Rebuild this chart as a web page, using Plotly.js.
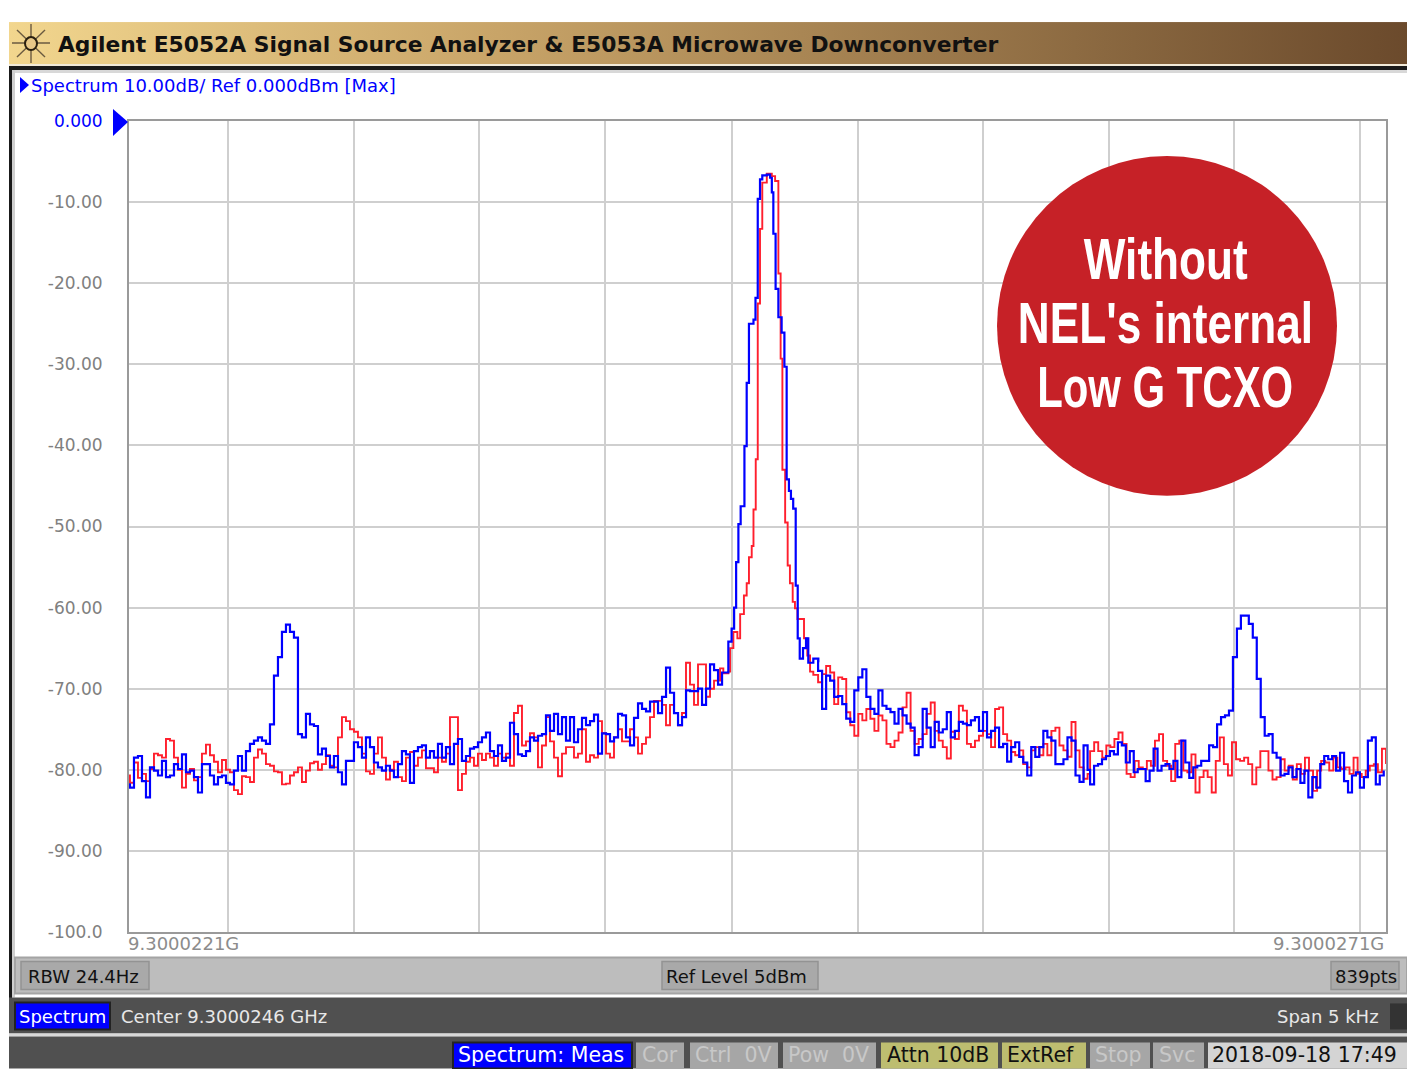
<!DOCTYPE html>
<html><head><meta charset="utf-8">
<script src="https://cdn.plot.ly/plotly-3.0.1.min.js"></script>
<style>html,body{margin:0;padding:0;background:#fff;overflow:hidden}</style>
</head><body><div id="chart" style="width:1407px;height:1069px"></div>
<script>
// ---- tick positions (Hz above 9.3000221 GHz) and labels
const gridHz = [394,895,1392,1894,2399,2900,3397,3898,4395,4897];
const yTicks = [0,-10,-20,-30,-40,-50,-60,-70,-80,-90,-100];
const yTickLabels = ['<span style="color:#0000ff">0.000</span>','-10.00','-20.00','-30.00','-40.00','-50.00','-60.00','-70.00','-80.00','-90.00','-100.0'];

// ---- blue trace (dBm)
const blueA = [-81.8,-82.2,-78.5,-78.3,-81.4,-83.4,-79.7,-80.1,-80.7,-78.9,-80.9,-80.7,-79.3,-79.9,-78.1,-80.3,-80.1,-80.9,-82.8,-79.3,-79.3,-80.7,-81.8,-80.9,-80.7,-81.6,-81.8,-80.1,-78.3,-80.1,-77.7,-76.8,-76.4,-76,-76.4,-76.8,-74.4,-68.4,-66.1,-63,-62.1,-63,-63.7,-75.6,-76,-73.1,-74.4,-74.6,-78.1,-77.4,-78.3,-79.7,-78.3,-80.3,-81.8,-78.9,-78.9,-76.6,-77.2,-78.5,-76,-77.2,-79.1,-79.7,-80.1,-79.5,-80.1,-80.9,-79.3,-77.7,-78.1,-81.6,-77.7,-77.2,-77,-78.5,-77.7,-78.5];
const blueB = [-76.8,-78.5,-77.2,-79.3,-76.8,-76.2,-78.9,-78.3,-77.4,-77.2,-76.6,-76,-75.4,-77.7,-78.3,-77,-78.9,-78.5,-74.2,-75.6,-78.1,-78.3,-77.7,-76,-76.4,-75.8,-75.6,-73.3,-75.2,-73.1,-75.6,-73.5,-76.4,-73.5,-76.6,-75,-73.6,-74.5,-74,-73.2,-78,-75.5,-75.6,-76.5,-76,-73.1,-73.3,-76,-77,-73.6,-71.8,-72.5,-72.8,-71.6,-71.6,-73,-71,-67.4,-70.5,-73,-74.5,-73.5,-70.2,-70.3,-70.3,-70,-72,-70,-67,-67.7,-69.5,-68];
const bluePeakHz = [2388,2401,2411,2419,2428,2437,2452,2461,2470,2488,2496,2505,2514,2523,2541,2554,2561,2567,2576,2587,2600,2611,2620,2629,2637,2646,2656,2664,2672,2685,2697,2706,2726,2746];
const bluePeakDb = [-64.2,-62.6,-60,-54.4,-49.7,-47.5,-40.1,-32.3,-25,-24.5,-21.8,-9.6,-7.2,-6.7,-6.6,-7,-8.8,-13.9,-20.7,-24.2,-26.1,-30.3,-44.2,-45.6,-46.6,-47.8,-57.3,-63.8,-66.3,-65,-63.8,-66.8,-66.3,-66.6];
const blueC = [-67.8,-72.5,-68.4,-69,-71,-70.9,-71.9,-73.7,-74.1,-70.2,-68.6,-67.6,-71,-72.5,-73.1,-70.2,-72.1,-72.5,-72.9,-74.3,-72.5,-73.3,-74.3,-74.8,-78.2,-77.2,-72.5,-74.8,-77.2,-74.1,-75.4,-75,-72.9,-76,-75.2,-74.1,-74.3,-74.5,-73.9,-73.5,-75.2,-72.9,-76,-75.2,-74.8,-77.2,-76.8,-79,-77.2,-76.6,-78.4,-79.1,-80.7,-77.2,-78.4,-77.2,-75.2,-76,-76.4,-79.3,-79.3,-78.7,-76,-76.4,-80.7,-81.5,-77,-80];
const blueD = [-81.8,-79.5,-79.3,-78.7,-78.3,-77.7,-78.1,-76.6,-77,-79.1,-77.7,-80.3,-79.9,-79.9,-81.4,-80.1,-77.4,-80.1,-79.5,-79.3,-79.9,-78.9,-80.9,-76.4,-79.1,-81,-79.7,-79.5,-78.9,-78.9,-77,-77.2,-74.4,-73.5,-73.3,-72.7,-66.1,-62.6,-61,-61,-62,-63.7,-68.8,-73.5,-75.8,-75.6,-77.9,-78.5,-80.7,-80.5,-79.7,-80.9,-79.9,-81.6,-80.1,-83.4,-80.9,-82.2,-79.3,-78.3,-78.7,-78.3,-80.1,-77.9,-81.4,-82.8,-80.7,-80.3,-82.2,-80.9,-76.4,-76,-81.8,-80.7,-80.1];

// ---- red trace (dBm)
const redA = [-80.7,-81.6,-79.1,-81,-80.5,-81.4,-79.9,-78,-78.2,-78.5,-76.2,-76.4,-78.5,-80,-82.2,-80.5,-79.9,-81.3,-80.9,-78,-76.9,-78.2,-79,-80.3,-78.8,-80,-80.3,-82.5,-83,-80.8,-80.9,-81.5,-78.5,-77.5,-78,-79.3,-79.5,-80.2,-80.3,-81.8,-81.7,-80.7,-80.3,-79.7,-81.5,-80.1,-79.2,-79,-80,-79.3,-78.2,-79.5,-79.7,-76,-73.5,-74,-75,-75.3,-76,-78,-80.2,-80.5,-78,-76,-78.5,-81.2,-80,-79,-80.9,-81.4,-78.5,-77.8,-79.5,-78.5,-77.6,-79.8,-79.8,-80.3];
const redB = [-78.5,-79,-78,-73.5,-73.5,-82.5,-80.5,-79,-78.5,-79.5,-78,-78.8,-78,-78.5,-79.5,-78,-78.5,-78,-79.5,-73,-72.1,-77,-76.5,-75.5,-76,-79.7,-77,-73.5,-76.5,-78.5,-80.8,-78,-77.2,-77.2,-78.5,-78,-75,-79,-78.2,-78.5,-74,-75.5,-78,-78.5,-76,-75,-76.5,-76.5,-75,-76,-78,-76.8,-76,-73.5,-71.5,-71.5,-72,-74.5,-72,-73,-74.5,-73,-66.8,-69.5,-72,-67,-67,-71,-70,-69];
const redPeakHz = [2355,2368,2388,2395,2408,2424,2435,2450,2461,2470,2481,2488,2497,2505,2514,2523,2541,2561,2574,2587,2596,2603,2614,2624,2633,2644,2653,2663,2689,2702,2713,2726];
const redPeakDb = [-67.5,-68.1,-67.9,-65,-63,-63.8,-60.8,-58.5,-57,-53.8,-52.4,-47.9,-41.7,-22.5,-13.3,-7.6,-6.5,-6.8,-7.4,-18.8,-29.3,-43,-49.5,-54.8,-57,-59.3,-60.1,-61.4,-63.8,-65.9,-67.9,-68.3];
const redC = [-69.2,-68.2,-67.2,-68,-71.9,-68.6,-68.8,-72.9,-74.5,-75.8,-73.1,-73.9,-72.5,-73.7,-75.2,-73.3,-73.9,-76.8,-77.2,-76.4,-75.4,-72.3,-70.5,-75.2,-76.8,-76.2,-75.6,-73.1,-71.7,-75.2,-76.4,-77.2,-78.6,-75.3,-76.2,-72.1,-72.7,-76.8,-77.2,-76.4,-75.8,-75.2,-75.6,-77.2,-72.5,-72.3,-75.6,-76.4,-77.8,-78.2,-77.6,-79.3,-79.7,-77.6,-77.2,-78.2,-76.8,-78.2,-75.2,-74.8,-77,-77.6,-78.4,-74.1,-77.6,-79.7,-81.1,-80.5];
const redD = [-77.7,-76.6,-77.7,-78.5,-77,-77.2,-76.2,-75.4,-76.8,-80.5,-80.9,-78.9,-79.7,-79.9,-78.9,-79.5,-76.4,-75.6,-78.9,-79.5,-81.4,-76.8,-76.4,-80.1,-80.3,-78.1,-82.8,-80.9,-80.1,-80.9,-82.8,-78.9,-76,-79.3,-80.7,-76.6,-78.7,-78.9,-78.5,-79.3,-81.8,-79.7,-77.7,-77.7,-80.1,-81.2,-80.9,-78.7,-80.1,-79.5,-81.2,-79.3,-80.5,-78.5,-80.1,-82.6,-80.1,-78.9,-79.1,-80.1,-78.5,-79.7,-79.9,-79.7,-80.5,-78.5,-80.5,-80.9,-80.1,-79.5,-79.3,-80.3,-77.4,-79.3];

// ---- sweep segments: the analyser's frequency grid is evenly spaced
function sweep(startHz,endHz,values){return values.map((_,i)=>startHz+(endHz-startHz)*i/(values.length-1));}
const calHz=4;
const blueX=[...sweep(-8,1217,blueA),...sweep(1233,2363,blueB),...bluePeakHz,...sweep(2745,3817,blueC),...sweep(3827,4995,blueD)].map(h=>h-calHz);
const blueY=[...blueA,...blueB,...bluePeakDb,...blueC,...blueD];
const redX=[...sweep(-8,1217,redA),...sweep(1233,2331,redB),...redPeakHz,...sweep(2745,3817,redC),...sweep(3827,5004,redD)].map(h=>h-calHz);
const redY=[...redA,...redB,...redPeakDb,...redC,...redD];

// ---- page coordinates to plot-area paper fractions
const W=1407,H=1069,L=129,RT=1386,TP=121,BT=932.5;
const px=x=>(x-L)/(RT-L), py=y=>(BT-y)/(BT-TP);
const UI='"DejaVu Sans", sans-serif';
const shapes=[], annotations=[];
function box(x0,y0,x1,y1,fill,edge,w){shapes.push({type:'rect',xref:'paper',yref:'paper',x0:px(x0),x1:px(x1),y0:py(y0),y1:py(y1),fillcolor:fill,line:{color:edge||fill,width:edge?(w||1):0},layer:'above'});}
function poly(points,fill){shapes.push({type:'path',xref:'paper',yref:'paper',path:'M'+points.map(p=>px(p[0])+','+py(p[1])).join(' L')+' Z',fillcolor:fill,line:{width:0},layer:'above'});}
function seg(x0,y0,x1,y1,color,w){shapes.push({type:'line',xref:'paper',yref:'paper',x0:px(x0),x1:px(x1),y0:py(y0),y1:py(y1),line:{color:color,width:w},layer:'above'});}
function label(text,x,y,size,color,anchor,family,bold){annotations.push({xref:'paper',yref:'paper',x:px(x),y:py(y),text:bold?'<b>'+text+'</b>':text,showarrow:false,xanchor:anchor||'left',yanchor:'middle',borderpad:0,align:anchor||'left',font:{size:size,color:color,family:family||UI}});}

// frame
box(9,64,1407,66,'#f2ead8');
box(9,66,1407,70,'#1a1a1a');
box(9,66,12,1000,'#1a1a1a');
box(12,70,15,998,'#cfcfcf');
box(15,70,1407,73,'#d8d8d8');
// header strip
label('Spectrum 10.00dB/ Ref 0.000dBm [Max]',30,85,18,'#0000ff','left');
poly([[20,77],[29,85],[20,93]],'#0000ff');
poly([[113,109],[128,122],[113,136]],'#0000ff');
// frequency labels
label('9.3000221G',127,944,18,'#8c8c8c','left');
label('9.3000271G',1385,944,18,'#8c8c8c','right');
// light-grey status row
box(15,958,1407,994,'#bdbdbd','#a4a4a4',2);
box(21,962,149,990,'#a9a9a9','#939393',1.5);
box(662,962,818,990,'#a9a9a9','#939393',1.5);
box(1331,962,1399,990,'#a9a9a9','#939393',1.5);
label('RBW 24.4Hz',27,977,18,'#111','left');
label('Ref Level 5dBm',665,977,18,'#111','left');
label('839pts',1334,977,18,'#111','left');
// dark rows
box(9,998,1407,1034,'#505050');
box(9,1034,1407,1037,'#d8d8d8');
box(9,1037,1407,1069,'#505050');
box(15,1003,110,1030,'#0000ff','#222',2);
box(1390,1004,1407,1030,'#333333');
label('Spectrum',18,1017,18,'#fff','left');
label('Center 9.3000246 GHz',120,1017,18,'#e8e8e8','left');
label('Span 5 kHz',1380,1017,18,'#e8e8e8','right');
// status buttons
const BY=1056, BS=20.5;
box(453,1043,632,1069,'#0000ff','#222',2);
label('Spectrum: Meas',457,BY,BS,'#fff','left');
box(636,1043,684,1069,'#a6a6a6');label('Cor',641,BY,BS,'#c8c8c8','left');
box(690,1043,778,1069,'#a6a6a6');label('Ctrl  0V',694,BY,BS,'#c8c8c8','left');
box(783,1043,876,1069,'#a6a6a6');label('Pow  0V',787,BY,BS,'#c8c8c8','left');
box(881,1043,998,1069,'#bdbd70');label('Attn 10dB',886,BY,BS,'#111','left');
box(1002,1043,1086,1069,'#bdbd70');label('ExtRef',1006,BY,BS,'#111','left');
box(1090,1043,1150,1069,'#a6a6a6');label('Stop',1094,BY,BS,'#c8c8c8','left');
box(1153,1043,1204,1069,'#a6a6a6');label('Svc',1158,BY,BS,'#c8c8c8','left');
box(1208,1043,1407,1069,'#d4d4d4');label('2018-09-18 17:49',1211,BY,20.5,'#111','left');
// title bar text and star logo
label('Agilent E5052A Signal Source Analyzer &amp; E5053A Microwave Downconverter',57,44,21.8,'#111','left',UI,true);
[[12,43,50,43],[31,24,31,63],[17,30,45,57],[45,30,17,57]].forEach(s=>seg(s[0],s[1],s[2],s[3],'#6a5a40',1.4));
shapes.push({type:'circle',xref:'paper',yref:'paper',x0:px(25),x1:px(37),y0:py(37),y1:py(50),fillcolor:'#e8c888',line:{color:'#2a2010',width:2},layer:'above'});
// callout
shapes.push({type:'circle',xref:'paper',yref:'paper',x0:px(997),x1:px(1337),y0:py(156),y1:py(496),fillcolor:'#c62127',line:{width:0},layer:'above'});
const CALL='"Liberation Sans",sans-serif';
const calloutLines=['Without',"NEL's internal",'Low G TCXO'];
const calloutNarrow=[0.775,0.775,0.735];
label(calloutLines[0],1166,259,57,'#fff','center',CALL,true);
label(calloutLines[1],1165,323,57,'#fff','center',CALL,true);
label(calloutLines[2],1165,387,57,'#fff','center',CALL,true);

const titleGradient='data:image/svg+xml;utf8,'+encodeURIComponent('<svg xmlns="http://www.w3.org/2000/svg" width="1398" height="43" preserveAspectRatio="none"><defs><linearGradient id="g"><stop offset="0" stop-color="#f2d68e"/><stop offset="0.35" stop-color="#c8a468"/><stop offset="1" stop-color="#6b4a2c"/></linearGradient></defs><rect width="1398" height="43" fill="url(#g)"/></svg>');

const traces=[
 {type:'scatter',mode:'lines',x:redX,y:redY,line:{color:'#ff1f2d',width:1.9,shape:'hv'},hoverinfo:'skip'},
 {type:'scatter',mode:'lines',x:blueX,y:blueY,line:{color:'#0000ff',width:2.2,shape:'hv'},hoverinfo:'skip'}
];
const layout={
 width:W,height:H,showlegend:false,paper_bgcolor:'#ffffff',plot_bgcolor:'#ffffff',
 margin:{l:L,r:W-RT,t:TP,b:H-BT,pad:0},
 xaxis:{range:[0,5000],tickmode:'array',tickvals:gridHz,ticktext:gridHz.map(()=>''),ticks:'',showgrid:true,gridcolor:'#cfcfcf',gridwidth:2,zeroline:false,showline:true,linecolor:'#9a9a9a',linewidth:2,mirror:true,fixedrange:true},
 yaxis:{range:[-100,0],tickmode:'array',tickvals:yTicks,ticktext:yTickLabels,ticks:'outside',ticklen:21,tickcolor:'rgba(0,0,0,0)',tickfont:{size:17,color:'#808080',family:UI},showgrid:true,gridcolor:'#cfcfcf',gridwidth:2,zeroline:false,showline:true,linecolor:'#9a9a9a',linewidth:2,mirror:true,fixedrange:true},
 images:[{source:titleGradient,xref:'paper',yref:'paper',x:px(9),y:py(22),sizex:px(1407)-px(9),sizey:py(22)-py(64),xanchor:'left',yanchor:'top',sizing:'stretch',layer:'below'}],
 shapes:shapes,annotations:annotations
};
Plotly.newPlot('chart',traces,layout,{displayModeBar:false,staticPlot:true}).then(()=>{
 // the reference sets the callout in a condensed face: narrow the real text horizontally
 document.querySelectorAll('#chart .annotation-text').forEach(t=>{
  const i=calloutLines.indexOf(t.textContent);
  if(i>=0){t.style.transformBox='fill-box';t.style.transformOrigin='center';t.style.transform='scaleX('+calloutNarrow[i]+')';}
 });
});
</script></body></html>
